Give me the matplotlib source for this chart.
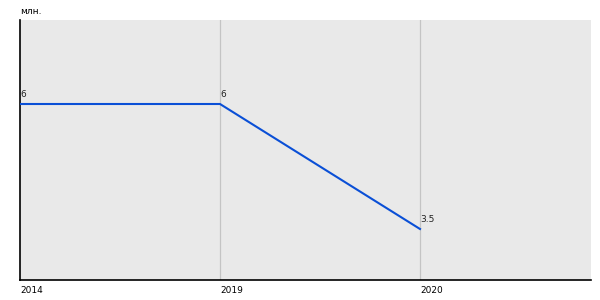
import matplotlib
matplotlib.use("Agg")
import matplotlib.pyplot as plt

years = ["2014", "2019", "2020"]
values = [6, 6, 3.5]
value_labels = ["6", "6", "3.5"]
unit = "млн."

fig = plt.figure(figsize=(6, 3), dpi=100)
ax = fig.add_axes([20/600, 20/300, 571/600, 260/300])
ax.set_facecolor("#e9e9e9")

x = list(range(len(years)))
ax.plot(x, values, color="#0a4fd6", lw=1.5, zorder=3)
for xi, v, lab in zip(x, values, value_labels):
    ax.annotate(lab, (xi, v), xytext=(0, 3.5), textcoords="offset points",
                fontsize=6.5, ha="left", va="bottom", color="#222222")

ax.set_xlim(0, 2.855)
ax.set_ylim(2.48, 7.68)
ax.set_xticks(x)
ax.set_xticklabels(years, fontsize=6.5, ha="left")
ax.tick_params(axis="x", length=0, pad=4)
ax.set_yticks([])
for xi in x[1:]:
    ax.axvline(xi, color="#c4c4c4", lw=0.9, zorder=1)

for s in ["top", "right"]:
    ax.spines[s].set_visible(False)
ax.spines["left"].set_linewidth(1.2)
ax.spines["bottom"].set_linewidth(1.2)

fig.text(20/600, 1 - 12/300, unit, fontsize=6.5, ha="left", va="center")

fig.savefig("out.png", dpi=100)
